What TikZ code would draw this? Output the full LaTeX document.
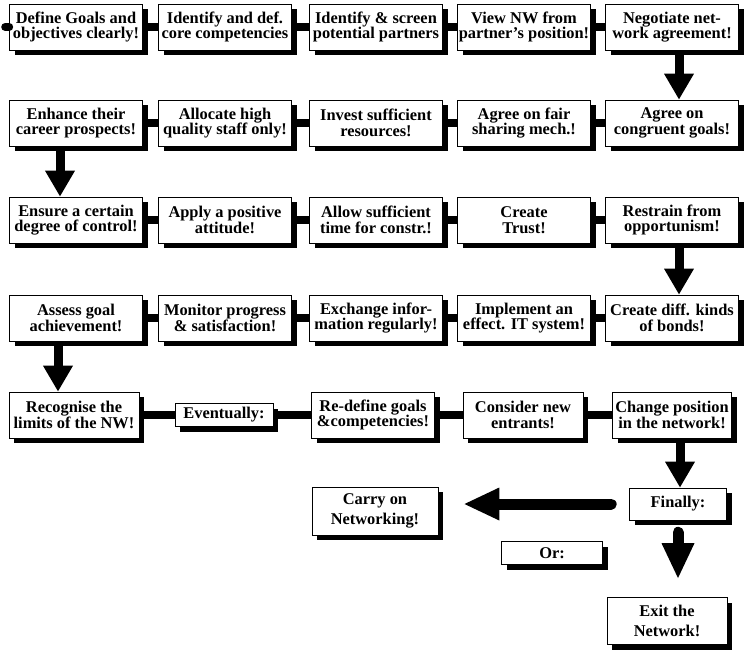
\documentclass[tikz,border=0pt]{standalone}
\usepackage{fontspec}
\setmainfont{Liberation Serif}
\usetikzlibrary{arrows.meta,shadows}

\begin{document}
\begin{tikzpicture}[x=1pt,y=-1pt,
	every node/.style={draw=black,line width=0.6pt,fill=white,align=center,inner sep=1pt,
		font=\fontsize{16.4}{15.5}\selectfont\bfseries,minimum width=133pt,minimum height=46pt,
		drop shadow={shadow xshift=5pt,shadow yshift=-5pt,fill=black,opacity=1}},
	bar/.style={line width=8pt},
	down/.style={line width=9pt,-{Triangle[width=28pt,length=26pt]}},
	big/.style={line width=11pt,line cap=round,-{Triangle[width=30pt,length=36pt]}}]
	\useasboundingbox (0,0) rectangle (745,649);

	%first row
	\node (a1) at (76,27) {Define Goals and\\objectives clearly!};
	\node (a2) at (225,27) {Identify and def.\\core competencies};
	\node (a3) at (376,27) {Identify \& screen\\potential partners};
	\node (a4) at (524,27) {View NW from\\partner's position!};
	\node (a5) at (672,27) {Negotiate net-\\work agreement!};

	%second row
	\node (b1) at (76,123) {Enhance their\\career prospects!};
	\node (b2) at (225,123) {Allocate high\\quality staff only!};
	\node (b3) at (376,123) {Invest sufficient\\resources!};
	\node (b4) at (524,123) {Agree on fair\\sharing mech.!};
	\node (b5) at (672,123) {Agree on\\congruent goals!};

	%third row
	\node (c1) at (76,220) {Ensure a certain\\degree of control!};
	\node (c2) at (225,220) {Apply a positive\\attitude!};
	\node (c3) at (376,220) {Allow sufficient\\time for constr.!};
	\node (c4) at (524,220) {Create\\Trust!};
	\node (c5) at (672,220) {Restrain from\\opportunism!};

	%fourth row
	\node (d1) at (76,318) {Assess goal\\achievement!};
	\node (d2) at (225,318) {Monitor progress\\\& satisfaction!};
	\node (d3) at (376,318) {Exchange infor-\\mation regularly!};
	\node (d4) at (524,318) {Implement an\\effect. IT system!};
	\node (d5) at (672,318) {Create diff. kinds\\of bonds!};

	%fifth row
	\node [minimum width=130pt] (e1) at (74,415) {Recognise the\\limits of the NW!};
	\node [minimum width=98pt,minimum height=23pt] (e2) at (224,415) {Eventually:};
	\node [minimum width=123pt] (e3) at (373,415) {Re-define goals\\\&competencies!};
	\node [minimum width=120pt] (e4) at (523,415) {Consider new\\entrants!};
	\node [minimum width=119pt] (e5) at (672,415) {Change position\\in the network!};

	%end nodes
	\node [minimum width=97pt,minimum height=32pt] (f1) at (678,504) {Finally:};
	\node [minimum width=126pt,minimum height=48pt] (f2) at (375,511) {Carry on\\[5pt]Networking!};
	\node [minimum width=101pt,minimum height=23pt] (f3) at (552,553) {Or:};
	\node [minimum width=120pt,minimum height=47pt] (f4) at (667,621) {Exit the\\[5pt]Network!};

	%bars
	\draw[bar,line cap=round] (a1.west) -- ++(-4,0);
	\draw[bar] (a1) -- (a2);
	\draw[bar] (a2) -- (a3);
	\draw[bar] (a3) -- (a4);
	\draw[bar] (a4) -- (a5);
	\draw[bar] (b5) -- (b4);
	\draw[bar] (b4) -- (b3);
	\draw[bar] (b3) -- (b2);
	\draw[bar] (b2) -- (b1);
	\draw[bar] (c1) -- (c2);
	\draw[bar] (c2) -- (c3);
	\draw[bar] (c3) -- (c4);
	\draw[bar] (c4) -- (c5);
	\draw[bar] (d5) -- (d4);
	\draw[bar] (d4) -- (d3);
	\draw[bar] (d3) -- (d2);
	\draw[bar] (d2) -- (d1);
	\draw[bar] (e1) -- (e2);
	\draw[bar] (e2) -- (e3);
	\draw[bar] (e3) -- (e4);
	\draw[bar] (e4) -- (e5);

	%arrows between rows
	\draw[down] ([xshift=7pt]a5.south) -- ([xshift=7pt]b5.north);
	\draw[down] ([xshift=-16pt]b1.south) -- ([xshift=-16pt]c1.north);
	\draw[down] ([xshift=7pt]c5.south) -- ([xshift=7pt]d5.north);
	\draw[down] ([xshift=-18pt]d1.south) -- ([xshift=-18pt]d1.south |- e1.north);
	\draw[down] ([xshift=8pt]e5.south) -- ([xshift=8pt]e5.south |- f1.north);

	%final choice
	\draw[big,shorten <=18pt,shorten >=25pt] (f1.west) -- (f1.west -| f2.east);
	\draw[big,shorten <=12pt,shorten >=18pt] (f1.south) -- (f1.south |- f4.north);
\end{tikzpicture}
\end{document}
